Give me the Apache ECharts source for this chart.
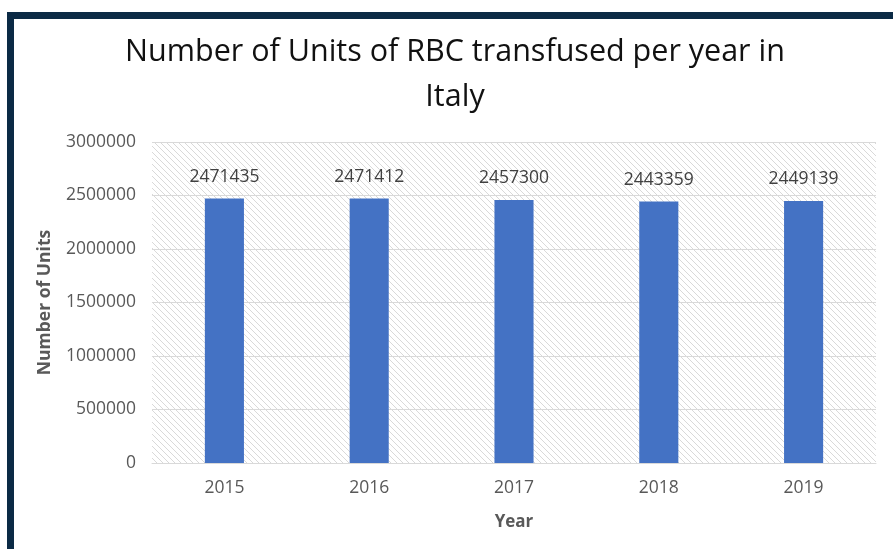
<!DOCTYPE html>
<html><head><meta charset="utf-8">
<script src="https://cdn.jsdelivr.net/npm/echarts@6/dist/echarts.min.js"></script>
<style>html,body{margin:0;padding:0;background:#fff}#c{width:893px;height:549px}</style>
</head><body><div id="c"></div>
<script>
const categories = ['2015','2016','2017','2018','2019'];
const units = [2471435, 2471412, 2457300, 2443359, 2449139];
const yTicks = [0, 500000, 1000000, 1500000, 2000000, 2500000, 3000000];

const pc = document.createElement('canvas');
pc.width = 6; pc.height = 6;
const g = pc.getContext('2d');
g.fillStyle = '#ffffff'; g.fillRect(0,0,6,6);
g.strokeStyle = '#d9d9d9'; g.lineWidth = 1;
g.beginPath();
g.moveTo(-1,-1); g.lineTo(7,7);
g.moveTo(-4,2); g.lineTo(4,10);
g.moveTo(2,-4); g.lineTo(10,4);
g.stroke();

const chart = echarts.init(document.getElementById('c'), null, {renderer:'canvas'});
const font = 'Open Sans';
chart.setOption({
  animation:false,
  backgroundColor:'#fff',
  title:{
    text:'Number of Units of RBC transfused per year in\nItaly',
    left: 450, textAlign:'center', top:25,
    textStyle:{fontFamily:font, fontSize:30.5, fontWeight:'normal', color:'#111', lineHeight:45}
  },
  graphic:[
    {type:'rect', shape:{x:7,y:12,width:886,height:7}, style:{fill:'#0b2a45'}},
    {type:'rect', shape:{x:7,y:12,width:7,height:537}, style:{fill:'#0b2a45'}}
  ],
  grid:{left:152, right:17, top:142, bottom:86, show:true, borderWidth:0,
    backgroundColor:{image:pc, repeat:'repeat'}},
  xAxis:{
    type:'category', data:categories,
    name:'Year', nameLocation:'middle', nameGap:51,
    nameTextStyle:{fontFamily:font, fontSize:17, fontWeight:'bold', color:'#595959'},
    axisLine:{lineStyle:{color:'#d9d9d9'}}, axisTick:{show:false},
    axisLabel:{fontFamily:font, fontSize:17.5, color:'#595959', margin:16}
  },
  yAxis:{
    type:'value', min:0, max:3000000, interval:500000,
    name:'Number of Units', nameLocation:'middle', nameGap:98, nameRotate:90,
    nameTextStyle:{fontFamily:font, fontSize:17.5, fontWeight:'bold', color:'#595959'},
    axisLine:{show:false}, axisTick:{show:false},
    axisLabel:{fontFamily:font, fontSize:17.5, color:'#595959', margin:16,
      formatter:v=>yTicks.includes(v)?String(v):''},
    splitLine:{lineStyle:{color:'#d9d9d9'}}
  },
  series:[{
    type:'bar', data:units, barWidth:'27%',
    itemStyle:{color:'#4472c4'},
    label:{show:true, position:'top', distance:13, fontFamily:font, fontSize:17.5, color:'#404040'}
  }]
});
</script></body></html>
